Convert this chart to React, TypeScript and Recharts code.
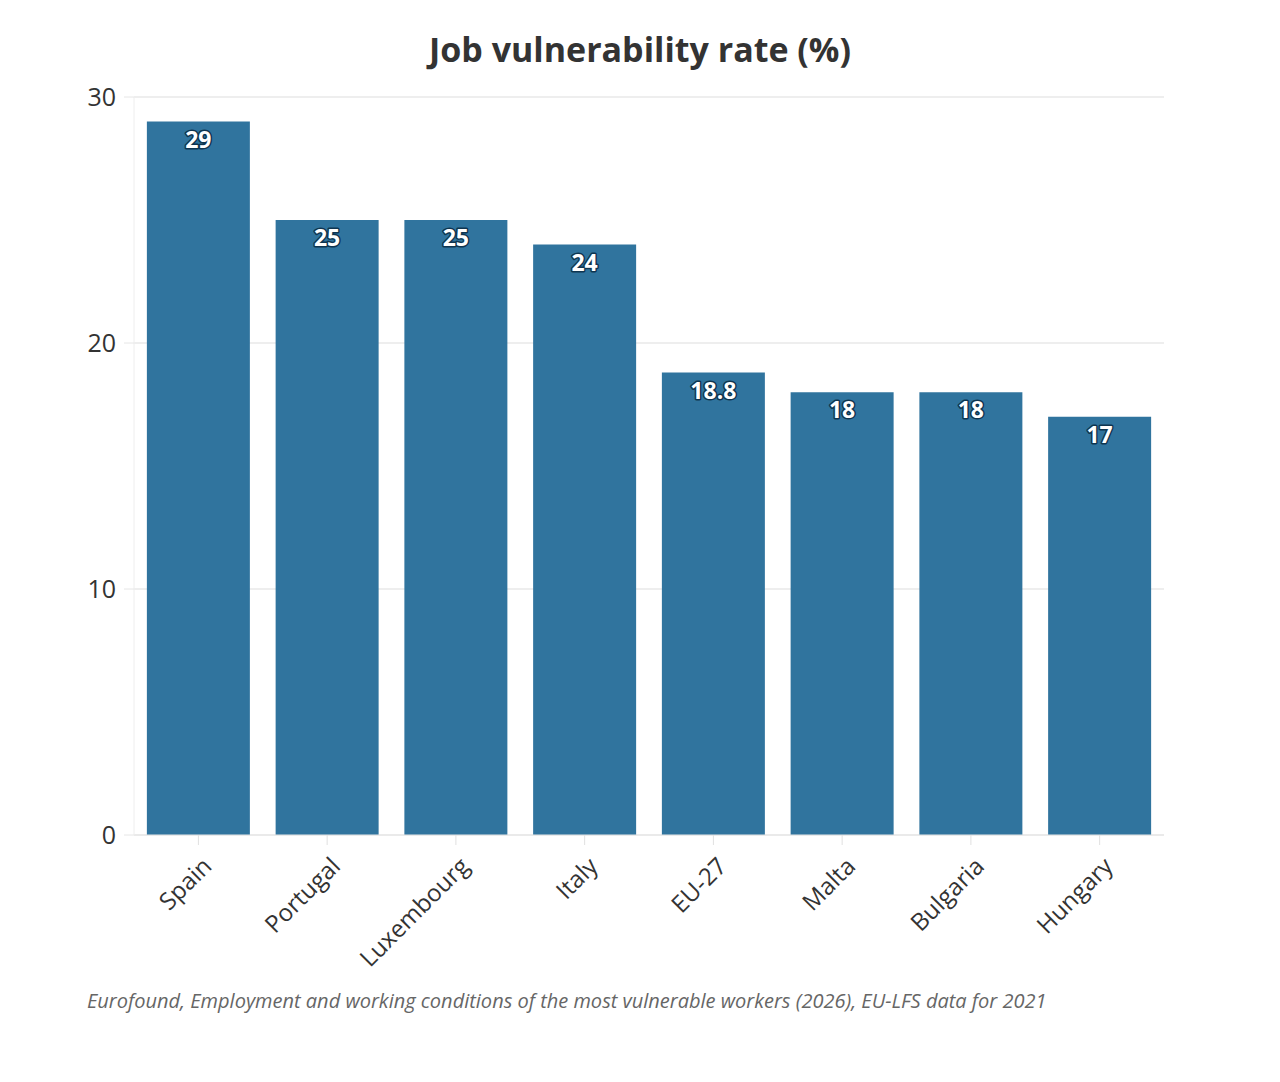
import React from 'react';
import { BarChart, Bar, XAxis, YAxis, CartesianGrid, LabelList } from 'recharts';

const countries = ['Spain', 'Portugal', 'Luxembourg', 'Italy', 'EU-27', 'Malta', 'Bulgaria', 'Hungary'];
const rates = [29, 25, 25, 24, 18.8, 18, 18, 17];
const yTicks = [0, 10, 20, 30];

const data = countries.map((name, i) => ({ name, value: rates[i] }));

const FONT = '"Open Sans", sans-serif';

const XTick = (props: any) => {
  const { x, y, payload } = props;
  return (
    <g transform={`translate(${x + 8},${y + 14})`}>
      <text
        transform="rotate(-45)"
        textAnchor="end"
        dominantBaseline="central"
        fontFamily={FONT}
        fontSize={24}
        fill="#333"
      >
        {payload.value}
      </text>
    </g>
  );
};

const BarLabel = (props: any) => {
  const { x, y, width, value } = props;
  return (
    <text
      x={x + width / 2}
      y={y + 17}
      textAnchor="middle"
      dominantBaseline="central"
      fontFamily={FONT}
      fontWeight={700}
      fontSize={23}
      fill="#fff"
      stroke="#0e3550"
      strokeWidth={3}
      strokeLinejoin="round"
      paintOrder="stroke"
    >
      {value}
    </text>
  );
};

export default function App() {
  return (
    <div style={{ position: 'absolute', left: 0, top: 0, width: 1280, height: 1082, background: '#fff', fontFamily: FONT }}>
      <div
        style={{
          position: 'absolute',
          top: 26,
          left: 0,
          width: 1280,
          textAlign: 'center',
          fontSize: 34,
          fontWeight: 700,
          color: '#333',
        }}
      >
        Job vulnerability rate (%)
      </div>
      <BarChart
        width={1280}
        height={1082}
        data={data}
        margin={{ top: 97, right: 116, bottom: 187, left: 0 }}
        barCategoryGap="10%"
      >
        <CartesianGrid vertical={false} stroke="#e8e8e8" strokeWidth={1.5} />
        <XAxis
          dataKey="name"
          interval={0}
          height={60}
          tick={<XTick />}
          tickLine={{ stroke: '#e0e0e0' }}
          tickSize={10}
          axisLine={{ stroke: '#e6e6e6' }}
        />
        <YAxis
          width={134}
          domain={[0, 30]}
          ticks={yTicks}
          tickSize={10}
          tickMargin={8}
          tickLine={{ stroke: '#e6e6e6' }}
          axisLine={{ stroke: '#eeeeee' }}
          tick={{ fill: '#333', fontSize: 25, fontFamily: FONT }}
        />
        <Bar dataKey="value" fill="#30749e" isAnimationActive={false}>
          <LabelList dataKey="value" content={<BarLabel />} />
        </Bar>
      </BarChart>
      <div
        style={{
          position: 'absolute',
          top: 987,
          left: 87,
          fontSize: 20,
          fontStyle: 'italic',
          color: '#666',
        }}
      >
        Eurofound, Employment and working conditions of the most vulnerable workers (2026), EU-LFS data for 2021
      </div>
    </div>
  );
}
